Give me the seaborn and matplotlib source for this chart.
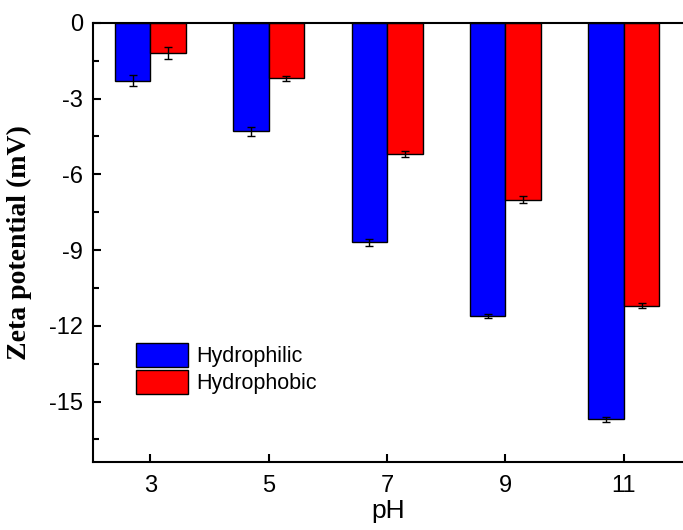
import matplotlib
matplotlib.use("Agg")
import matplotlib.pyplot as plt
import seaborn as sns
import pandas as pd
import numpy as np
from matplotlib.ticker import MultipleLocator

ph = [3, 5, 7, 9, 11]
hydrophilic = [-2.3, -4.3, -8.7, -11.6, -15.7]
hydrophilic_err = [0.22, 0.18, 0.14, 0.08, 0.1]
hydrophobic = [-1.2, -2.2, -5.2, -7.0, -11.2]
hydrophobic_err = [0.25, 0.1, 0.12, 0.14, 0.1]
series = ["Hydrophilic", "Hydrophobic"]
colors = ["#0000FF", "#FF0000"]
yticks = [0, -3, -6, -9, -12, -15]

df = pd.DataFrame({
    "pH": ph * 2,
    "zeta": hydrophilic + hydrophobic,
    "err": hydrophilic_err + hydrophobic_err,
    "type": [series[0]] * len(ph) + [series[1]] * len(ph),
})

sns.set_style("ticks")
plt.rcParams["font.family"] = ["Liberation Sans", "DejaVu Sans"]
plt.rcParams.update({
    "text.color": "black", "axes.labelcolor": "black",
    "xtick.color": "black", "ytick.color": "black",
    "axes.edgecolor": "black",
})

fig = plt.figure(figsize=(6.83, 5.30), dpi=100)
ax = fig.add_axes([0.136, 0.128, 0.864, 0.829])

sns.barplot(data=df, x="pH", y="zeta", hue="type", native_scale=True,
            width=0.6, palette=colors, edgecolor="black", linewidth=1.0,
            errorbar=None, saturation=1, ax=ax)

bars = [p for p in ax.patches if p.get_width() > 0 and p.get_height() != 0][:len(df)]
for p, (_, row) in zip(bars, df.iterrows()):
    ax.errorbar(p.get_x() + p.get_width() / 2, row["zeta"], yerr=row["err"],
                fmt="none", ecolor="black", elinewidth=1.0, capsize=3.2, capthick=1.0)

ax.set_xlim(2.03, 12)
ax.set_ylim(-17.4, 0)
ax.set_xticks(ph)
ax.set_xticklabels([str(v) for v in ph])
ax.set_yticks(yticks)
ax.set_yticklabels([str(v) for v in yticks])
ax.yaxis.set_minor_locator(MultipleLocator(1.5))
ax.tick_params(axis="x", which="major", direction="in", length=6, width=1.5,
               labelsize=17, pad=9)
ax.tick_params(axis="y", which="major", direction="in", length=6, width=1.5,
               labelsize=17, pad=7)
ax.tick_params(axis="y", which="minor", direction="in", length=4, width=1.5)
ax.tick_params(axis="x", which="minor", length=0)

for s in ["left", "bottom", "top"]:
    ax.spines[s].set_linewidth(1.5)
    ax.spines[s].set_visible(True)
    ax.spines[s].set_color("black")
ax.spines["right"].set_visible(False)

ax.set_xlabel("pH", fontsize=19, labelpad=2)
ax.set_ylabel("Zeta potential (mV)", fontsize=20, fontweight="bold",
              family=["Liberation Serif", "DejaVu Serif"], labelpad=12)

leg = ax.legend(loc="upper left", bbox_to_anchor=(0.073, 0.271), frameon=False,
                fontsize=15.5, handlelength=2.4, handleheight=1.3, labelspacing=0.14,
                handletextpad=0.4, borderaxespad=0, borderpad=0)
for h in leg.legend_handles:
    h.set_edgecolor("black")

fig.savefig("out.png", dpi=100)
